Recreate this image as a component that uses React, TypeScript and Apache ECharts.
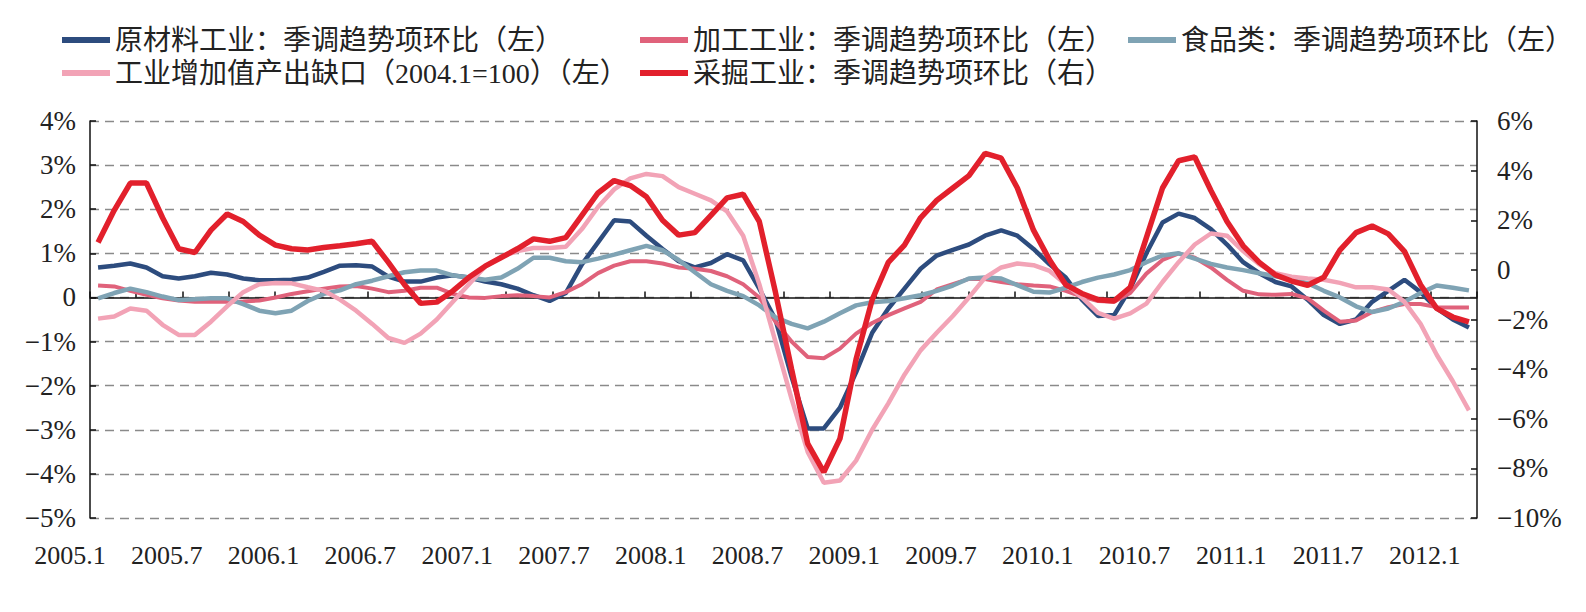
import React, { useEffect, useRef } from "react";
import * as echarts from "echarts";

const months = [
  "2005.1", "2005.2", "2005.3", "2005.4", "2005.5", "2005.6", "2005.7", "2005.8", "2005.9", "2005.10", "2005.11", "2005.12",
  "2006.1", "2006.2", "2006.3", "2006.4", "2006.5", "2006.6", "2006.7", "2006.8", "2006.9", "2006.10", "2006.11", "2006.12",
  "2007.1", "2007.2", "2007.3", "2007.4", "2007.5", "2007.6", "2007.7", "2007.8", "2007.9", "2007.10", "2007.11", "2007.12",
  "2008.1", "2008.2", "2008.3", "2008.4", "2008.5", "2008.6", "2008.7", "2008.8", "2008.9", "2008.10", "2008.11", "2008.12",
  "2009.1", "2009.2", "2009.3", "2009.4", "2009.5", "2009.6", "2009.7", "2009.8", "2009.9", "2009.10", "2009.11", "2009.12",
  "2010.1", "2010.2", "2010.3", "2010.4", "2010.5", "2010.6", "2010.7", "2010.8", "2010.9", "2010.10", "2010.11", "2010.12",
  "2011.1", "2011.2", "2011.3", "2011.4", "2011.5", "2011.6", "2011.7", "2011.8", "2011.9", "2011.10", "2011.11", "2011.12",
  "2012.1", "2012.2",
];

// 原材料工业：季调趋势项环比（左）
const rawMaterial = [
  0.68, 0.72, 0.77, 0.68, 0.48, 0.43, 0.48, 0.56, 0.52, 0.43,
  0.39, 0.39, 0.40, 0.45, 0.58, 0.72, 0.73, 0.70, 0.47, 0.36,
  0.36, 0.45, 0.50, 0.45, 0.36, 0.30, 0.20, 0.05, -0.08, 0.10,
  0.75, 1.25, 1.75, 1.72, 1.40, 1.10, 0.82, 0.68, 0.78, 0.98,
  0.84, 0.20, -0.50, -1.80, -2.97, -2.97, -2.50, -1.70, -0.80, -0.25,
  0.20, 0.65, 0.95, 1.08, 1.20, 1.40, 1.52, 1.40, 1.10, 0.75,
  0.45, -0.05, -0.42, -0.40, 0.20, 1.00, 1.70, 1.90, 1.80, 1.55,
  1.20, 0.80, 0.55, 0.35, 0.25, -0.05, -0.40, -0.60, -0.50, -0.10,
  0.15, 0.40, 0.12, -0.25, -0.50, -0.68,
];

// 加工工业：季调趋势项环比（左）
const processing = [
  0.27, 0.25, 0.15, 0.06, -0.02, -0.07, -0.10, -0.10, -0.10, -0.09,
  -0.07, 0.00, 0.08, 0.14, 0.20, 0.25, 0.26, 0.20, 0.12, 0.15,
  0.22, 0.22, 0.08, 0.00, -0.01, 0.03, 0.05, 0.03, 0.00, 0.12,
  0.30, 0.55, 0.72, 0.82, 0.82, 0.77, 0.68, 0.65, 0.60, 0.48,
  0.30, 0.00, -0.55, -1.00, -1.35, -1.38, -1.16, -0.82, -0.58, -0.40,
  -0.25, -0.10, 0.18, 0.30, 0.42, 0.42, 0.35, 0.30, 0.27, 0.25,
  0.15, 0.02, -0.08, -0.10, 0.10, 0.54, 0.85, 1.00, 0.90, 0.68,
  0.40, 0.15, 0.07, 0.06, 0.08, -0.02, -0.30, -0.55, -0.52, -0.33,
  -0.22, -0.15, -0.15, -0.22, -0.23, -0.23,
];

// 食品类：季调趋势项环比（左）
const food = [
  -0.02, 0.10, 0.20, 0.12, 0.02, -0.06, -0.04, -0.02, -0.02, -0.15,
  -0.30, -0.36, -0.30, -0.08, 0.08, 0.16, 0.30, 0.38, 0.48, 0.57,
  0.61, 0.61, 0.50, 0.45, 0.40, 0.45, 0.65, 0.90, 0.90, 0.82,
  0.80, 0.88, 0.97, 1.07, 1.17, 1.07, 0.85, 0.57, 0.30, 0.15,
  0.03, -0.18, -0.45, -0.60, -0.70, -0.55, -0.36, -0.18, -0.11, -0.08,
  -0.02, 0.05, 0.15, 0.27, 0.43, 0.45, 0.43, 0.28, 0.13, 0.11,
  0.22, 0.35, 0.45, 0.52, 0.62, 0.80, 0.95, 1.00, 0.88, 0.76,
  0.68, 0.62, 0.55, 0.48, 0.42, 0.32, 0.15, 0.00, -0.20, -0.33,
  -0.25, -0.10, 0.10, 0.27, 0.22, 0.16,
];

// 工业增加值产出缺口（2004.1=100）（左）
const outputGap = [
  -0.48, -0.43, -0.25, -0.30, -0.62, -0.85, -0.85, -0.55, -0.20, 0.12,
  0.30, 0.33, 0.32, 0.23, 0.15, -0.05, -0.30, -0.60, -0.92, -1.03,
  -0.82, -0.50, -0.10, 0.30, 0.70, 0.92, 1.05, 1.12, 1.12, 1.15,
  1.55, 2.05, 2.45, 2.70, 2.80, 2.75, 2.50, 2.35, 2.20, 1.95,
  1.40, 0.30, -1.00, -2.30, -3.50, -4.20, -4.15, -3.70, -3.00, -2.40,
  -1.75, -1.20, -0.80, -0.42, 0.00, 0.45, 0.68, 0.77, 0.73, 0.60,
  0.30, 0.00, -0.35, -0.48, -0.36, -0.14, 0.35, 0.80, 1.20, 1.45,
  1.40, 1.05, 0.75, 0.55, 0.47, 0.43, 0.40, 0.33, 0.23, 0.23,
  0.18, -0.10, -0.60, -1.30, -1.90, -2.56,
];

// 采掘工业：季调趋势项环比（右）
const mining = [
  1.10, 2.40, 3.50, 3.50, 2.10, 0.85, 0.70, 1.60, 2.25, 1.95,
  1.40, 1.00, 0.85, 0.80, 0.90, 0.97, 1.05, 1.15, 0.30, -0.60,
  -1.35, -1.30, -0.85, -0.30, 0.15, 0.50, 0.85, 1.25, 1.15, 1.30,
  2.20, 3.10, 3.60, 3.40, 2.95, 2.00, 1.40, 1.50, 2.20, 2.90,
  3.05, 1.95, -0.90, -4.00, -7.00, -8.15, -6.80, -3.60, -1.20, 0.30,
  1.00, 2.10, 2.80, 3.30, 3.80, 4.70, 4.50, 3.30, 1.60, 0.40,
  -0.60, -0.95, -1.20, -1.25, -0.70, 1.30, 3.30, 4.40, 4.55, 3.20,
  1.95, 0.97, 0.30, -0.20, -0.45, -0.62, -0.30, 0.80, 1.50, 1.77,
  1.45, 0.75, -0.60, -1.55, -1.90, -2.10,
];

const seriesNames = [
  "原材料工业：季调趋势项环比（左）",
  "加工工业：季调趋势项环比（左）",
  "食品类：季调趋势项环比（左）",
  "工业增加值产出缺口（2004.1=100）（左）",
  "采掘工业：季调趋势项环比（右）",
];
const seriesData = [rawMaterial, processing, food, outputGap, mining];
const seriesColors = ["#2d4c7e", "#e0627b", "#7fa3b4", "#f2a3b6", "#e2202c"];
const seriesWidths = [4.5, 4, 4.5, 4.5, 5.5];
const seriesAxis = [0, 0, 0, 0, 1];
const legendPos = [
  [62, 26],
  [640, 26],
  [1128, 26],
  [62, 59],
  [640, 59],
];

const FONT = "'Liberation Serif', 'Noto Sans CJK SC', serif";
const TEXT = "#222";

const pct = (v: number) => (v === 0 ? "0" : `${v}%`.replace("-", "−"));

export default function App() {
  const ref = useRef<HTMLDivElement>(null);
  useEffect(() => {
    if (!ref.current) return;
    const chart = echarts.init(ref.current, null, { renderer: "svg" });
    const axisLineStyle = { color: "#111", width: 1.5 };
    chart.setOption({
      animation: false,
      backgroundColor: "#fff",
      legend: seriesNames.map((n, k) => ({
        data: [n],
        left: legendPos[k][0],
        top: legendPos[k][1],
        padding: 0,
        icon: "rect",
        itemWidth: 48,
        itemHeight: 6,
        itemGap: 0,
        selectedMode: false,
        textStyle: { fontSize: 28, fontFamily: FONT, color: TEXT },
      })),
      grid: { left: 90, right: 109, top: 121, bottom: 94 },
      xAxis: [
        {
          type: "category",
          data: months,
          boundaryGap: true,
          position: "bottom",
          axisLine: { show: false, onZero: false },
          axisTick: { show: false },
          splitLine: { show: false },
          axisLabel: {
            interval: 5,
            margin: 24,
            fontSize: 26,
            fontFamily: FONT,
            color: TEXT,
            padding: [0, 56, 0, 0],
          },
        },
        {
          type: "value",
          min: 0,
          max: 30,
          interval: 1,
          position: "bottom",
          axisLine: { show: true, onZero: true, onZeroAxisIndex: 0, lineStyle: axisLineStyle },
          axisTick: { show: true, inside: true, length: 6, lineStyle: axisLineStyle },
          axisLabel: { show: false },
          splitLine: { show: false },
        },
      ],
      yAxis: [
        {
          type: "value",
          min: -5,
          max: 4,
          interval: 1,
          position: "left",
          axisLine: { show: true, onZero: false, lineStyle: axisLineStyle },
          axisTick: { show: true, inside: true, length: 6, lineStyle: axisLineStyle },
          axisLabel: { formatter: pct, margin: 14, fontSize: 27, fontFamily: FONT, color: TEXT },
          splitLine: { show: true, lineStyle: { type: [9, 6], color: "#8a8a8a", width: 1.3 } },
        },
        {
          type: "value",
          min: -10,
          max: 6,
          interval: 2,
          position: "right",
          axisLine: { show: true, onZero: false, lineStyle: axisLineStyle },
          axisTick: { show: true, inside: true, length: 6, lineStyle: axisLineStyle },
          axisLabel: { formatter: pct, margin: 20, fontSize: 27, fontFamily: FONT, color: TEXT },
          splitLine: { show: false },
        },
      ],
      series: seriesNames.map((n, k) => ({
        name: n,
        type: "line",
        xAxisIndex: 0,
        yAxisIndex: seriesAxis[k],
        data: seriesData[k],
        symbol: "none",
        color: seriesColors[k],
        lineStyle: { color: seriesColors[k], width: seriesWidths[k] },
        z: 2 + k,
      })),
    });
    return () => chart.dispose();
  }, []);
  return (
    <div
      ref={ref}
      style={{ position: "fixed", left: 0, top: 0, width: 1586, height: 612, background: "#fff" }}
    />
  );
}
